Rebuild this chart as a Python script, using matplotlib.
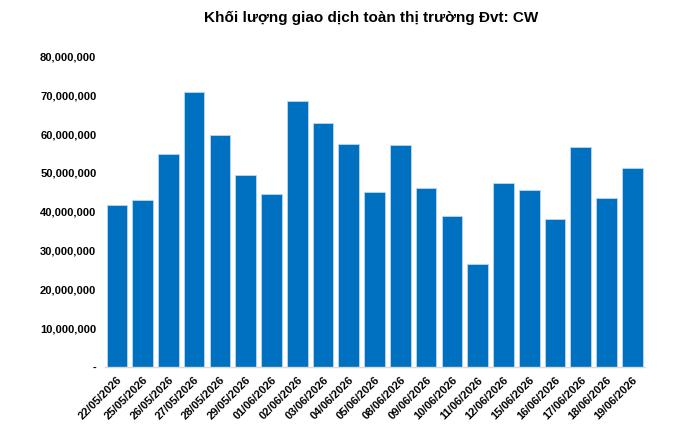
import matplotlib.pyplot as plt
from matplotlib.ticker import FuncFormatter

plt.rcParams['font.family'] = ['Liberation Sans', 'DejaVu Sans']

dates = ['22/05/2026', '25/05/2026', '26/05/2026', '27/05/2026', '28/05/2026',
         '29/05/2026', '01/06/2026', '02/06/2026', '03/06/2026', '04/06/2026',
         '05/06/2026', '08/06/2026', '09/06/2026', '10/06/2026', '11/06/2026',
         '12/06/2026', '15/06/2026', '16/06/2026', '17/06/2026', '18/06/2026',
         '19/06/2026']
volume = [41.8, 43.1, 55.0, 70.9, 59.7, 49.5, 44.7, 68.5, 63.0, 57.4,
          45.0, 57.2, 46.1, 38.9, 26.5, 47.3, 45.7, 38.1, 56.8, 43.5, 51.3]
volume = [v * 1e6 for v in volume]

fig = plt.figure(figsize=(6.98, 4.28), dpi=100)
ax = fig.add_axes([0.150, 0.143, 0.774, 0.7245])

x = range(len(dates))
ax.bar(x, volume, width=0.8, color='#0070C0', edgecolor='#BDD7EE', linewidth=0.6)

ax.set_ylim(0, 80e6)
ax.set_xlim(-0.47, len(dates) - 0.51)
ax.set_yticks([i * 10e6 for i in range(9)])


def fmt(v, pos):
    if v == 0:
        return '-'
    return '{:,.0f}'.format(v)


ax.yaxis.set_major_formatter(FuncFormatter(fmt))
ax.set_xticks(list(x))
ax.set_xticklabels(dates, rotation=45, ha='right', rotation_mode='anchor')

for lbl in ax.get_yticklabels() + ax.get_xticklabels():
    lbl.set_fontsize(8)
    lbl.set_fontweight('bold')

ax.tick_params(axis='both', length=0)
ax.tick_params(axis='y', pad=6)
ax.tick_params(axis='x', pad=6)

for s in ['top', 'right', 'left']:
    ax.spines[s].set_visible(False)
ax.spines['bottom'].set_color('#D9D9D9')
ax.spines['bottom'].set_linewidth(1.0)

fig.text(0.532, 0.957, 'Khối lượng giao dịch toàn thị trường Đvt: CW',
         ha='center', va='center', fontsize=11, fontweight='bold')

fig.savefig('out.png', dpi=100)
